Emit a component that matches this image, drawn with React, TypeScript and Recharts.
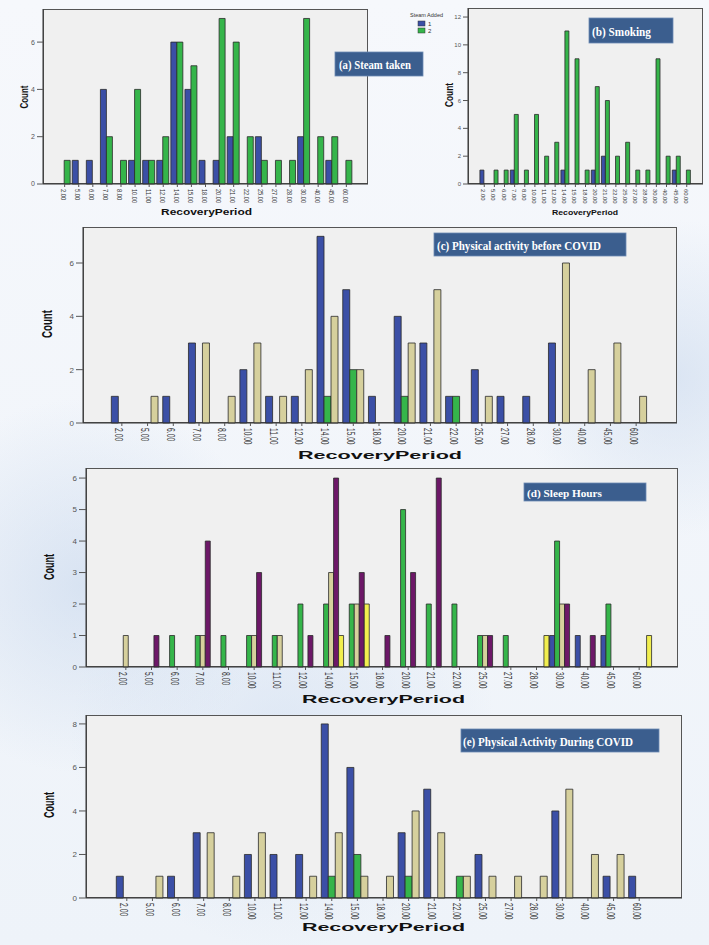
import { BarChart, Bar, XAxis, YAxis } from 'recharts'

// recovery period categories (shared by all five panels)
const periods = ['2.00', '5.00', '6.00', '7.00', '8.00', '10.00', '11.00', '12.00', '14.00', '15.00', '18.00', '20.00', '21.00', '22.00', '25.00', '27.00', '28.00', '30.00', '40.00', '45.00', '60.00']

// (a) steam taken
const steamYes = [0, 1, 1, 4, 0, 1, 1, 1, 6, 4, 1, 1, 2, 0, 2, 0, 0, 2, 0, 1, 0]
const steamNo = [1, 0, 0, 2, 1, 4, 1, 2, 6, 5, 0, 7, 6, 2, 1, 1, 1, 7, 2, 2, 1]

// (b) smoking
const smokeYes = [1, 0, 0, 1, 0, 0, 0, 0, 1, 0, 0, 1, 2, 0, 0, 0, 0, 0, 0, 1, 0]
const smokeNo = [0, 1, 1, 5, 1, 5, 2, 3, 11, 9, 1, 7, 6, 2, 3, 1, 1, 9, 2, 2, 1]

// (c) physical activity before covid
const beforeBlue = [1, 0, 1, 3, 0, 2, 1, 1, 7, 5, 1, 4, 3, 1, 2, 1, 1, 3, 0, 0, 0]
const beforeGreen = [0, 0, 0, 0, 0, 0, 0, 0, 1, 2, 0, 1, 0, 1, 0, 0, 0, 0, 0, 0, 0]
const beforeTan = [0, 1, 0, 3, 1, 3, 1, 2, 4, 2, 0, 3, 5, 0, 1, 0, 0, 6, 2, 3, 1]

// (d) sleep hours
const sleepBlue = [0, 0, 0, 0, 0, 0, 0, 0, 0, 0, 0, 0, 0, 0, 0, 0, 0, 1, 1, 1, 0]
const sleepGreen = [0, 0, 1, 1, 1, 1, 1, 2, 2, 2, 0, 5, 2, 2, 1, 1, 0, 4, 0, 2, 0]
const sleepTan = [1, 0, 0, 1, 0, 1, 1, 0, 3, 2, 0, 0, 0, 0, 1, 0, 0, 2, 0, 0, 0]
const sleepPurple = [0, 1, 0, 4, 0, 3, 0, 1, 6, 3, 1, 3, 6, 0, 1, 0, 0, 2, 1, 0, 0]
const sleepYellow = [0, 0, 0, 0, 0, 0, 0, 0, 1, 2, 0, 0, 0, 0, 0, 0, 1, 0, 0, 0, 1]

// (e) physical activity during covid
const duringBlue = [1, 0, 1, 3, 0, 2, 2, 2, 8, 6, 0, 3, 5, 0, 2, 0, 0, 4, 0, 1, 1]
const duringGreen = [0, 0, 0, 0, 0, 0, 0, 0, 1, 2, 0, 1, 0, 1, 0, 0, 0, 0, 0, 0, 0]
const duringTan = [0, 1, 0, 3, 1, 3, 0, 1, 3, 1, 1, 4, 3, 1, 1, 1, 1, 5, 2, 2, 0]

const BLUE = '#3b4fa6'
const GREEN = '#35b54a'
const TAN = '#d6d09d'
const PURPLE = '#6d1868'
const YELLOW = '#f1ee4f'

const SANS = "'Liberation Sans', Arial, sans-serif"
const SERIF = "'Liberation Serif', 'Times New Roman', serif"

type Frame = { left: number; top: number; right: number; bottom: number }
type Series = { values: number[]; color: string }

function XTick(props: any) {
  const { x, y, payload, fs, per, dx } = props
  const s = String(payload.value)
  return (
    <text
      x={0}
      y={0}
      transform={`translate(${x + dx},${y}) rotate(90)`}
      fontSize={fs}
      fill="#333"
      fontFamily={SANS}
      textLength={s.length * per}
      lengthAdjust="spacingAndGlyphs"
      dominantBaseline="central"
    >
      {s}
    </text>
  )
}

interface PanelProps {
  frame: Frame
  yMax: number
  yTicks: number[]
  padL: number
  padR: number
  gap: string
  series: Series[]
  xFont: { fs: number; per: number; dx: number }
  yFont: number
  yTick: number
}

function Panel({ frame, yMax, yTicks, padL, padR, gap, series, xFont, yFont, yTick }: PanelProps) {
  const AXW = 40
  const XH = 30
  const w = frame.right - frame.left
  const h = frame.bottom - frame.top
  const rows = periods.map((p, i) => {
    const r: Record<string, string | number> = { period: p }
    series.forEach((s, k) => {
      r['s' + k] = s.values[i]
    })
    return r
  })
  return (
    <>
      <div
        style={{
          position: 'absolute',
          left: frame.left,
          top: frame.top,
          width: w,
          height: h,
          background: '#f0f0f0',
          border: '1px solid #555',
          boxSizing: 'border-box',
        }}
      />
      <div style={{ position: 'absolute', left: frame.left - AXW, top: frame.top }}>
        <BarChart
          width={w + AXW}
          height={h + XH}
          data={rows}
          margin={{ top: 0, right: 0, bottom: 0, left: 0 }}
          barCategoryGap={gap}
          barGap={0}
        >
          <XAxis
            dataKey="period"
            interval={0}
            height={XH}
            padding={{ left: padL, right: padR }}
            tickSize={3}
            axisLine={{ stroke: '#333' }}
            tickLine={{ stroke: '#555' }}
            tick={(p: any) => <XTick {...p} fs={xFont.fs} per={xFont.per} dx={xFont.dx} />}
          />
          <YAxis
            width={AXW}
            domain={[0, yMax]}
            ticks={yTicks}
            tickSize={yTick}
            tickMargin={2}
            axisLine={{ stroke: '#333' }}
            tickLine={{ stroke: '#555' }}
            tick={{ fontSize: yFont, fill: '#555', fontFamily: SANS }}
          />
          {series.map((s, k) => (
            <Bar
              key={k}
              dataKey={'s' + k}
              fill={s.color}
              stroke="#2a2a2a"
              strokeWidth={0.8}
              isAnimationActive={false}
            />
          ))}
        </BarChart>
      </div>
    </>
  )
}

function TagBox({ x, y, w, h, tx, len, fs, text }: { x: number; y: number; w: number; h: number; tx: number; len: number; fs: number; text: string }) {
  return (
    <g>
      <rect x={x} y={y} width={w} height={h} fill="#3b5e8e" stroke="#6d8bb3" strokeWidth={0.8} />
      <text
        x={tx}
        y={y + h / 2 + 1}
        fill="#fff"
        fontFamily={SERIF}
        fontWeight="bold"
        fontSize={fs}
        textLength={len}
        lengthAdjust="spacingAndGlyphs"
        dominantBaseline="central"
      >
        {text}
      </text>
    </g>
  )
}

function CountTitle({ x, y, len, fs }: { x: number; y: number; len: number; fs: number }) {
  return (
    <text
      transform={`translate(${x},${y}) rotate(-90)`}
      textAnchor="middle"
      dominantBaseline="central"
      fontFamily={SANS}
      fontWeight="bold"
      fontSize={fs}
      textLength={len}
      lengthAdjust="spacingAndGlyphs"
      fill="#111"
    >
      Count
    </text>
  )
}

function PeriodTitle({ x, y, len, fs }: { x: number; y: number; len: number; fs: number }) {
  return (
    <text
      x={x - len / 2}
      y={y}
      dominantBaseline="central"
      fontFamily={SANS}
      fontWeight="bold"
      fontSize={fs}
      textLength={len}
      lengthAdjust="spacingAndGlyphs"
      fill="#111"
    >
      RecoveryPeriod
    </text>
  )
}

export default function App() {
  const small = { fs: 6.5, per: 2.8, dx: -1 }
  const big = { fs: 10, per: 3.3, dx: -3 }
  return (
    <div
      style={{
        position: 'absolute',
        left: 0,
        top: 0,
        width: 709,
        height: 945,
        overflow: 'hidden',
        background:
          'radial-gradient(circle at 12% 62%, rgba(185,205,232,0.45), rgba(255,255,255,0) 22%), radial-gradient(circle at 95% 40%, rgba(195,212,235,0.5), rgba(255,255,255,0) 18%), radial-gradient(circle at 40% 78%, rgba(200,216,238,0.45), rgba(255,255,255,0) 25%), linear-gradient(#f6f8fc, #eef3f9)',
      }}
    >
      <Panel
        frame={{ left: 43, top: 9, right: 368, bottom: 184 }}
        yMax={7.4}
        yTicks={[0, 2, 4, 6]}
        padL={14.6}
        padR={14.6}
        gap="4%"
        series={[
          { values: steamYes, color: BLUE },
          { values: steamNo, color: GREEN },
        ]}
        xFont={small}
        yFont={7}
        yTick={6}
      />
      <Panel
        frame={{ left: 468, top: 8, right: 703, bottom: 184 }}
        yMax={12.65}
        yTicks={[0, 2, 4, 6, 8, 10, 12]}
        padL={11.2}
        padR={11.2}
        gap="7%"
        series={[
          { values: smokeYes, color: BLUE },
          { values: smokeNo, color: GREEN },
        ]}
        xFont={{ fs: 5.5, per: 2.9, dx: -1 }}
        yFont={6}
        yTick={5}
      />
      <Panel
        frame={{ left: 83, top: 227, right: 677, bottom: 423 }}
        yMax={7.35}
        yTicks={[0, 2, 4, 6]}
        padL={26}
        padR={28}
        gap="9%"
        series={[
          { values: beforeBlue, color: BLUE },
          { values: beforeGreen, color: GREEN },
          { values: beforeTan, color: TAN },
        ]}
        xFont={big}
        yFont={8}
        yTick={7}
      />
      <Panel
        frame={{ left: 86, top: 468, right: 678, bottom: 667 }}
        yMax={6.32}
        yTicks={[0, 1, 2, 3, 4, 5, 6]}
        padL={27}
        padR={26}
        gap="1%"
        series={[
          { values: sleepBlue, color: BLUE },
          { values: sleepGreen, color: GREEN },
          { values: sleepTan, color: TAN },
          { values: sleepPurple, color: PURPLE },
          { values: sleepYellow, color: YELLOW },
        ]}
        xFont={big}
        yFont={8}
        yTick={7}
      />
      <Panel
        frame={{ left: 86, top: 715, right: 682, bottom: 898 }}
        yMax={8.41}
        yTicks={[0, 2, 4, 6, 8]}
        padL={28}
        padR={30}
        gap="9%"
        series={[
          { values: duringBlue, color: BLUE },
          { values: duringGreen, color: GREEN },
          { values: duringTan, color: TAN },
        ]}
        xFont={big}
        yFont={8}
        yTick={7}
      />
      <svg
        width={709}
        height={945}
        style={{ position: 'absolute', left: 0, top: 0, pointerEvents: 'none' }}
      >
        {/* legend of panel (a) */}
        <text x={410} y={15} fontSize={5} fill="#333" fontFamily={SANS} textLength={33} lengthAdjust="spacingAndGlyphs" dominantBaseline="central">
          Steam Added
        </text>
        <rect x={418} y={21} width={7} height={5} fill={BLUE} stroke="#333" strokeWidth={0.5} />
        <text x={428} y={23.5} fontSize={6} fill="#333" fontFamily={SANS} dominantBaseline="central">1</text>
        <rect x={418} y={28} width={7} height={5} fill={GREEN} stroke="#333" strokeWidth={0.5} />
        <text x={428} y={30.5} fontSize={6} fill="#333" fontFamily={SANS} dominantBaseline="central">2</text>

        <TagBox x={335} y={52} w={88} h={24} tx={339} len={72} fs={12} text="(a) Steam taken" />
        <TagBox x={589} y={18} w={84} h={25} tx={592} len={59} fs={12} text="(b) Smoking" />
        <TagBox x={434} y={233} w={192} h={23} tx={437} len={164} fs={12} text="(c) Physical activity before COVID" />
        <TagBox x={524} y={483} w={122} h={18} tx={527} len={75} fs={11} text="(d) Sleep Hours" />
        <TagBox x={461} y={729} w={198} h={23} tx={463} len={170} fs={12} text="(e) Physical Activity During COVID" />

        <CountTitle x={24} y={97} len={23} fs={11} />
        <CountTitle x={449} y={95} len={24} fs={10} />
        <CountTitle x={47} y={324} len={28} fs={14} />
        <CountTitle x={49} y={567} len={26} fs={14} />
        <CountTitle x={49} y={805} len={26} fs={14} />

        <PeriodTitle x={206.5} y={212} len={91} fs={9} />
        <PeriodTitle x={585} y={212} len={66} fs={8} />
        <PeriodTitle x={380} y={455} len={164} fs={11} />
        <PeriodTitle x={383.5} y={699} len={163} fs={11} />
        <PeriodTitle x={383.5} y={927} len={163} fs={11} />
      </svg>
    </div>
  )
}
